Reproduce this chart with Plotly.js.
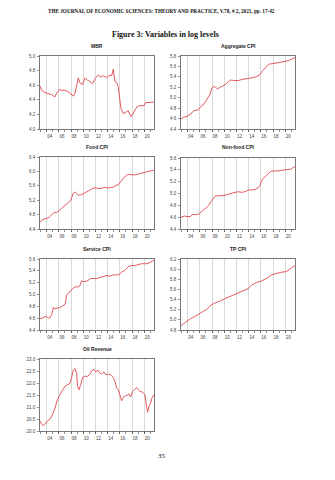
<!DOCTYPE html>
<html><head><meta charset="utf-8">
<script src="https://cdn.plot.ly/plotly-3.0.1.min.js"></script>
<style>html,body{margin:0;padding:0;background:#fff;}#chart{width:335px;height:480px;}</style>
</head><body><div id="chart"></div>
<script>
const panelTitles = ['MBR','Aggregate CPI','Food CPI','Non-food CPI','Service CPI','TP CPI','Oil Revenue'];
const yearTickVals = [2004,2006,2008,2010,2012,2014,2016,2018,2020];
const yearTickText = ['04','06','08','10','12','14','16','18','20'];

const mbrYears = [2002.90,2003.17,2003.72,2004.27,2004.81,2005.09,2005.36,2005.63,2006.07,2006.45,2007.00,2007.54,2008.09,2008.36,2008.64,2009.18,2009.46,2009.89,2010.28,2010.66,2011.10,2011.53,2011.92,2012.46,2012.85,2013.28,2013.83,2014.21,2014.65,2014.92,2015.20,2015.47,2015.74,2016.01,2016.18,2016.56,2017.00,2017.38,2017.65,2017.82,2018.20,2018.47,2018.86,2019.29,2019.95,2020.22,2020.93,2021.59];
const mbrValues = [4.59,4.53,4.50,4.49,4.47,4.45,4.44,4.49,4.54,4.53,4.53,4.51,4.47,4.45,4.49,4.70,4.63,4.61,4.70,4.67,4.65,4.62,4.69,4.74,4.71,4.73,4.70,4.73,4.73,4.82,4.65,4.64,4.58,4.42,4.28,4.21,4.23,4.25,4.20,4.17,4.22,4.26,4.31,4.32,4.32,4.36,4.36,4.37];

const aggYears = [2002.90,2003.34,2003.88,2004.32,2004.70,2004.97,2005.41,2005.79,2006.06,2006.50,2006.88,2007.15,2007.59,2007.97,2008.24,2008.52,2008.90,2009.33,2009.77,2010.15,2010.70,2011.08,2011.51,2012.33,2012.88,2013.42,2013.97,2014.51,2014.95,2015.33,2015.77,2016.31,2016.86,2017.40,2017.79,2018.33,2018.88,2019.42,2019.97,2020.51,2021.06,2021.60];
const aggValues = [4.59,4.63,4.64,4.67,4.71,4.75,4.76,4.77,4.82,4.86,4.92,4.98,5.05,5.18,5.22,5.20,5.17,5.20,5.23,5.25,5.31,5.34,5.33,5.33,5.35,5.36,5.37,5.37,5.39,5.41,5.43,5.52,5.59,5.65,5.65,5.66,5.67,5.68,5.70,5.71,5.74,5.77];

const foodYears = [2002.90,2003.17,2003.56,2003.99,2004.43,2004.81,2005.20,2005.63,2006.07,2006.45,2007.00,2007.54,2007.93,2008.36,2008.64,2008.91,2009.18,2009.73,2010.28,2010.82,2011.37,2011.92,2012.46,2013.01,2013.56,2013.94,2014.38,2014.92,2015.20,2015.74,2016.12,2016.67,2017.22,2017.65,2018.09,2018.75,2019.29,2019.84,2020.39,2020.93,2021.59];
const foodValues = [4.58,4.64,4.68,4.69,4.73,4.79,4.86,4.86,4.91,4.98,5.05,5.12,5.19,5.39,5.43,5.39,5.34,5.35,5.41,5.46,5.51,5.55,5.52,5.53,5.56,5.54,5.55,5.56,5.60,5.63,5.71,5.83,5.91,5.92,5.90,5.91,5.94,5.97,5.99,6.01,6.03];

const nonfoodYears = [2002.90,2003.45,2003.88,2004.43,2004.86,2005.24,2005.79,2006.17,2006.61,2007.04,2007.43,2007.81,2008.24,2008.52,2009.06,2009.77,2010.15,2010.70,2011.24,2011.79,2012.33,2012.88,2013.42,2013.97,2014.51,2015.06,2015.60,2015.88,2016.15,2016.69,2017.24,2017.68,2018.33,2018.88,2019.42,2019.97,2020.51,2020.89,2021.33,2021.60];
const nonfoodValues = [4.60,4.62,4.61,4.61,4.65,4.64,4.65,4.68,4.71,4.76,4.80,4.85,4.92,4.96,4.96,4.96,4.97,4.99,5.01,5.02,5.03,5.02,5.03,5.06,5.06,5.07,5.10,5.14,5.23,5.28,5.34,5.38,5.38,5.38,5.39,5.40,5.40,5.41,5.44,5.45];

const serviceYears = [2002.90,2003.17,2003.56,2003.99,2004.27,2004.54,2004.81,2005.09,2005.36,2005.74,2006.18,2006.62,2007.00,2007.27,2007.54,2007.93,2008.36,2008.80,2009.18,2009.46,2009.73,2010.00,2010.44,2010.82,2011.21,2011.64,2012.30,2012.74,2013.28,2013.83,2014.38,2014.81,2015.47,2015.91,2016.29,2016.83,2017.38,2017.93,2018.47,2019.02,2019.57,2020.39,2020.93,2021.59];
const serviceValues = [4.60,4.59,4.62,4.63,4.60,4.61,4.66,4.78,4.76,4.77,4.78,4.81,4.83,4.99,5.02,5.06,5.11,5.13,5.13,5.15,5.23,5.22,5.22,5.24,5.27,5.27,5.27,5.29,5.31,5.32,5.31,5.33,5.33,5.34,5.38,5.41,5.47,5.49,5.49,5.51,5.52,5.52,5.54,5.58];

const tpYears = [2002.90,2003.61,2004.43,2005.24,2006.06,2006.88,2007.26,2007.70,2008.24,2009.06,2009.88,2010.70,2011.51,2012.33,2013.15,2013.97,2014.51,2015.33,2016.15,2016.97,2017.79,2018.60,2019.42,2020.13,2020.78,2021.60];
const tpValues = [4.89,4.95,5.02,5.07,5.13,5.18,5.22,5.28,5.32,5.36,5.41,5.45,5.49,5.53,5.57,5.62,5.69,5.74,5.77,5.82,5.89,5.92,5.94,5.95,6.00,6.07];

const oilYears = [2002.90,2003.17,2003.45,2003.72,2004.10,2004.54,2004.98,2005.36,2005.74,2006.18,2006.62,2007.00,2007.38,2007.82,2008.09,2008.36,2008.64,2008.91,2009.07,2009.29,2009.57,2009.89,2010.28,2010.66,2011.10,2011.37,2011.75,2012.08,2012.35,2012.63,2013.01,2013.39,2013.72,2014.10,2014.48,2014.92,2015.20,2015.47,2015.74,2016.01,2016.29,2016.45,2016.73,2017.11,2017.54,2017.76,2018.09,2018.47,2018.75,2019.02,2019.29,2019.73,2020.11,2020.39,2020.55,2020.77,2021.04,2021.26,2021.59];
const oilValues = [20.42,20.28,20.22,20.32,20.42,20.50,20.70,20.95,21.30,21.53,21.72,21.86,21.93,21.98,22.23,22.54,22.60,22.41,21.86,21.72,21.93,22.23,22.29,22.27,22.37,22.51,22.57,22.46,22.54,22.43,22.37,22.46,22.34,22.37,22.34,22.23,22.07,21.79,21.72,21.53,21.26,21.34,21.44,21.48,21.53,21.42,21.65,21.74,21.81,21.72,21.65,21.62,21.51,21.02,20.78,21.02,21.16,21.37,21.51];

const yTickLists = [
  [4.0,4.2,4.4,4.6,4.8,5.0],
  [4.4,4.6,4.8,5.0,5.2,5.4,5.6,5.8],
  [4.4,4.8,5.2,5.6,6.0,6.4],
  [4.4,4.6,4.8,5.0,5.2,5.4,5.6],
  [4.4,4.6,4.8,5.0,5.2,5.4,5.6],
  [4.8,5.0,5.2,5.4,5.6,5.8,6.0,6.2],
  [20.0,20.5,21.0,21.5,22.0,22.5,23.0]
];

const seriesX = [mbrYears,aggYears,foodYears,nonfoodYears,serviceYears,tpYears,oilYears];
const seriesY = [mbrValues,aggValues,foodValues,nonfoodValues,serviceValues,tpValues,oilValues];

// layout geometry (pixels)
const W = 335, H = 480;
const boxes = [
  [40,154,56,129],[181,295,56,129],
  [40,154,157,229],[181,295,158,229],
  [40,154,259,330],[181,295,259,330],
  [40,154,359,431]
];
const titleY = [46,46,147,147,249,249,349];

const traces = [];
const layout = {
  width: W, height: H,
  margin: {l:0,r:0,t:0,b:0},
  paper_bgcolor:'#ffffff', plot_bgcolor:'#ffffff',
  showlegend:false,
  font:{family:'Liberation Sans, Arial, sans-serif', size:4.5, color:'#333'},
  annotations: [],
};

for (let i=0;i<7;i++){
  const n = i===0 ? '' : String(i+1);
  const b = boxes[i];
  traces.push({
    type:'scatter', mode:'lines',
    x: seriesX[i], y: seriesY[i],
    xaxis:'x'+n, yaxis:'y'+n,
    line:{color:'#e0474c', width:0.9},
    hoverinfo:'skip'
  });
  const yt = yTickLists[i];
  layout['xaxis'+n] = {
    domain:[b[0]/W, b[1]/W],
    anchor:'y'+n,
    range:[2002.9, 2021.6],
    tickmode:'array', tickvals:yearTickVals, ticktext:yearTickText,
    ticks:'outside', ticklen:2, tickwidth:0.6, tickcolor:'#444',
    ticklabelshift:3, ticklabelstandoff:1,
    tickfont:{size:4.5, color:'#444'},
    showgrid:true, gridcolor:'#d9d9d9', gridwidth:1,
    minor:{tick0:2003, dtick:1, ticks:'outside', ticklen:2, tickwidth:0.6, tickcolor:'#444', showgrid:false},
    showline:true, linecolor:'#555', linewidth:0.8, mirror:true,
    zeroline:false, fixedrange:true
  };
  layout['yaxis'+n] = {
    domain:[1-b[3]/H, 1-b[2]/H],
    anchor:'x'+n,
    range:[yt[0], yt[yt.length-1]],
    tickmode:'array', tickvals:yt, tickformat:'.1f',
    ticks:'outside', ticklen:2, tickwidth:0.6, tickcolor:'#444',
    ticklabelstandoff:1,
    tickfont:{size:4.5, color:'#444'},
    showgrid:false, showline:true, linecolor:'#555', linewidth:0.8, mirror:true,
    zeroline:false, fixedrange:true
  };
  layout.annotations.push({
    xref:'paper', yref:'paper',
    x:((b[0]+b[1])/2)/W, y:1-titleY[i]/H,
    xanchor:'center', yanchor:'middle', showarrow:false,
    text:'<b>'+panelTitles[i]+'</b>',
    font:{family:'Liberation Sans, Arial, sans-serif', size:5, color:'#222'}
  });
}

layout.annotations.push({
  xref:'paper', yref:'paper', x:161.5/W, y:1-11/H, xanchor:'center', yanchor:'middle', showarrow:false,
  text:'<b>THE JOURNAL OF ECONOMIC SCIENCES: THEORY AND PRACTICE, V.78, # 2, 2021, pp. 17-42</b>',
  font:{family:'Liberation Serif, Times New Roman, serif', size:5.2, color:'#111'}
});
layout.annotations.push({
  xref:'paper', yref:'paper', x:165/W, y:1-34.5/H, xanchor:'center', yanchor:'middle', showarrow:false,
  text:'<b>Figure 3: Variables in log levels</b>',
  font:{family:'Liberation Serif, Times New Roman, serif', size:8, color:'#111'}
});
layout.annotations.push({
  xref:'paper', yref:'paper', x:162/W, y:1-455.5/H, xanchor:'center', yanchor:'middle', showarrow:false,
  text:'35',
  font:{family:'Liberation Serif, Times New Roman, serif', size:7, color:'#111'}
});

Plotly.newPlot('chart', traces, layout, {staticPlot:true, displayModeBar:false});
</script>
</body></html>
